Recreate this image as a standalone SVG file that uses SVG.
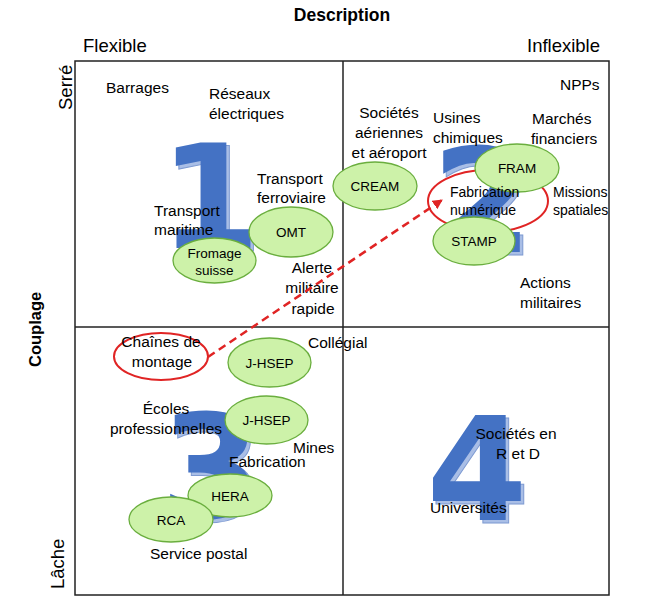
<svg xmlns="http://www.w3.org/2000/svg" width="660" height="615" viewBox="0 0 660 615">
<style>
.t{font-family:"Liberation Sans",Arial,sans-serif;font-size:15.5px;fill:#000}
.s{font-family:"Liberation Sans",Arial,sans-serif;font-size:14px;fill:#000}
.e{font-family:"Liberation Sans",Arial,sans-serif;font-size:13.5px;fill:#000;text-anchor:middle}
.m{text-anchor:middle}
.h{font-family:"Liberation Sans",Arial,sans-serif;font-size:18.5px;fill:#000}
.b{font-family:"Liberation Sans",Arial,sans-serif;font-size:17.5px;font-weight:bold;fill:#000}
.g{fill:#CDF2A9;stroke:#6AAE3E;stroke-width:1.3}
.r{fill:none;stroke:#E02424;stroke-width:2}
.n{font-family:"DejaVu Sans",sans-serif;font-weight:bold;font-size:145px;text-anchor:middle;fill:#4472C4}
.ns{font-family:"DejaVu Sans",sans-serif;font-weight:bold;font-size:145px;text-anchor:middle;fill:#A9BEE6;stroke:#7F9BD2;stroke-width:1}
.grid{fill:none;stroke:#222;stroke-width:1.5}
</style>
<defs>
<marker id="ah" viewBox="0 0 10 10" refX="9" refY="5" markerWidth="4" markerHeight="4" orient="auto">
<path d="M0,0 L10,5 L0,10 z" fill="#E02424"/>
</marker>
</defs>
<rect width="660" height="615" fill="#fff"/>
<g id="axes">
<rect class="grid" x="75" y="61" width="534" height="534"/>
<line class="grid" x1="343" y1="61" x2="343" y2="595"/>
<line class="grid" x1="75" y1="327" x2="609" y2="327"/>
<text class="b m" x="342" y="21">Description</text>
<text class="h" x="83" y="52">Flexible</text>
<text class="h" x="527" y="52">Inflexible</text>
<text class="h" transform="translate(72,110) rotate(-90)">Serré</text>
<text class="h" transform="translate(64,589) rotate(-90)">Lâche</text>
<text class="b" style="font-size:16.5px" transform="translate(41,367) rotate(-90)">Couplage</text>
</g>
<g id="numbers">
<text class="ns" x="213" y="251">1</text>
<text class="n" x="210" y="248">1</text>
<text class="ns" x="485" y="255">2</text>
<text class="n" x="482" y="252">2</text>
<text class="ns" x="214" y="521">3</text>
<text class="n" x="211" y="518">3</text>
<text class="ns" x="480" y="523">4</text>
<text class="n" x="477" y="520">4</text>
</g>
<g id="q1">
<text class="t" x="106" y="93">Barrages</text>
<text class="t" x="209" y="99">Réseaux</text>
<text class="t" x="209" y="119">électriques</text>
<text class="t" x="257" y="184">Transport</text>
<text class="t" x="257" y="203">ferroviaire</text>
<text class="t" x="154" y="216">Transport</text>
<text class="t" x="154" y="235">maritime</text>
<text class="t m" x="312" y="273">Alerte</text>
<text class="t m" x="312" y="293">militaire</text>
<text class="t m" x="313" y="314">rapide</text>
</g>
<g id="omt"><ellipse class="g" cx="291" cy="232" rx="42" ry="25"/><text class="e" x="291" y="237">OMT</text></g>
<g id="fromage"><ellipse class="g" cx="214.5" cy="260.5" rx="41.5" ry="22.5"/><text class="e" x="214.5" y="258">Fromage</text><text class="e" x="214.5" y="275">suisse</text></g>
<g id="q2">
<text class="t" x="560" y="90">NPPs</text>
<text class="t m" x="389" y="118">Sociétés</text>
<text class="t m" x="389" y="138">aériennes</text>
<text class="t m" x="389" y="158">et aéroport</text>
<text class="t" x="433" y="123">Usines</text>
<text class="t" x="433" y="143">chimiques</text>
<text class="t" x="532" y="124">Marchés</text>
<text class="t" x="531" y="144">financiers</text>
<text class="s" x="553" y="197">Missions</text>
<text class="s" x="553" y="215">spatiales</text>
<text class="t" x="520" y="288">Actions</text>
<text class="t" x="520" y="308">militaires</text>
</g>
<g id="cream"><ellipse class="g" cx="375" cy="186" rx="42" ry="24"/><text class="e" x="375" y="191">CREAM</text></g>
<g id="fabnum"><ellipse class="r" cx="488" cy="201" rx="60" ry="31"/></g>
<g id="fram"><ellipse class="g" cx="517" cy="168" rx="42" ry="24"/><text class="e" x="517" y="173">FRAM</text></g>
<g id="stamp"><ellipse class="g" cx="474" cy="241" rx="41" ry="24"/><text class="e" x="474" y="246">STAMP</text></g>
<g id="fabnum-label">
<text class="s" x="450" y="197">Fabrication</text>
<text class="s" x="450" y="215">numérique</text>
</g>
<g id="q3">
<text class="t" x="308" y="348">Collégial</text>
<text class="t m" x="166" y="414">Écoles</text>
<text class="t m" x="166" y="434">professionnelles</text>
<text class="t" x="293" y="453">Mines</text>
<text class="t" x="229" y="467">Fabrication</text>
<text class="t" x="150" y="559">Service postal</text>
</g>
<g id="chaines"><ellipse class="r" cx="161" cy="356.5" rx="47" ry="23.5"/><text class="t m" x="161" y="347">Chaînes de</text><text class="t m" x="162" y="367">montage</text></g>
<g id="jhsep1"><ellipse class="g" cx="269.5" cy="362.5" rx="41.5" ry="24.5"/><text class="e" x="269.5" y="367.5">J-HSEP</text></g>
<g id="jhsep2"><ellipse class="g" cx="266.5" cy="420" rx="41.5" ry="24"/><text class="e" x="266.5" y="425">J-HSEP</text></g>
<g id="hera"><ellipse class="g" cx="230" cy="495.5" rx="42" ry="21.5"/><text class="e" x="230" y="500.5">HERA</text></g>
<g id="rca"><ellipse class="g" cx="171" cy="519.5" rx="42" ry="22.5"/><text class="e" x="171" y="524.5">RCA</text></g>
<g id="q4">
<text class="t m" x="516" y="439">Sociétés en</text>
<text class="t m" x="518" y="459">R et D</text>
<text class="t" x="430" y="513">Universités</text>
</g>
<g id="connectors">
<line x1="208" y1="357" x2="442" y2="200" stroke="#E02424" stroke-width="2.5" stroke-dasharray="8,5" marker-end="url(#ah)"/>
</g>
</svg>
